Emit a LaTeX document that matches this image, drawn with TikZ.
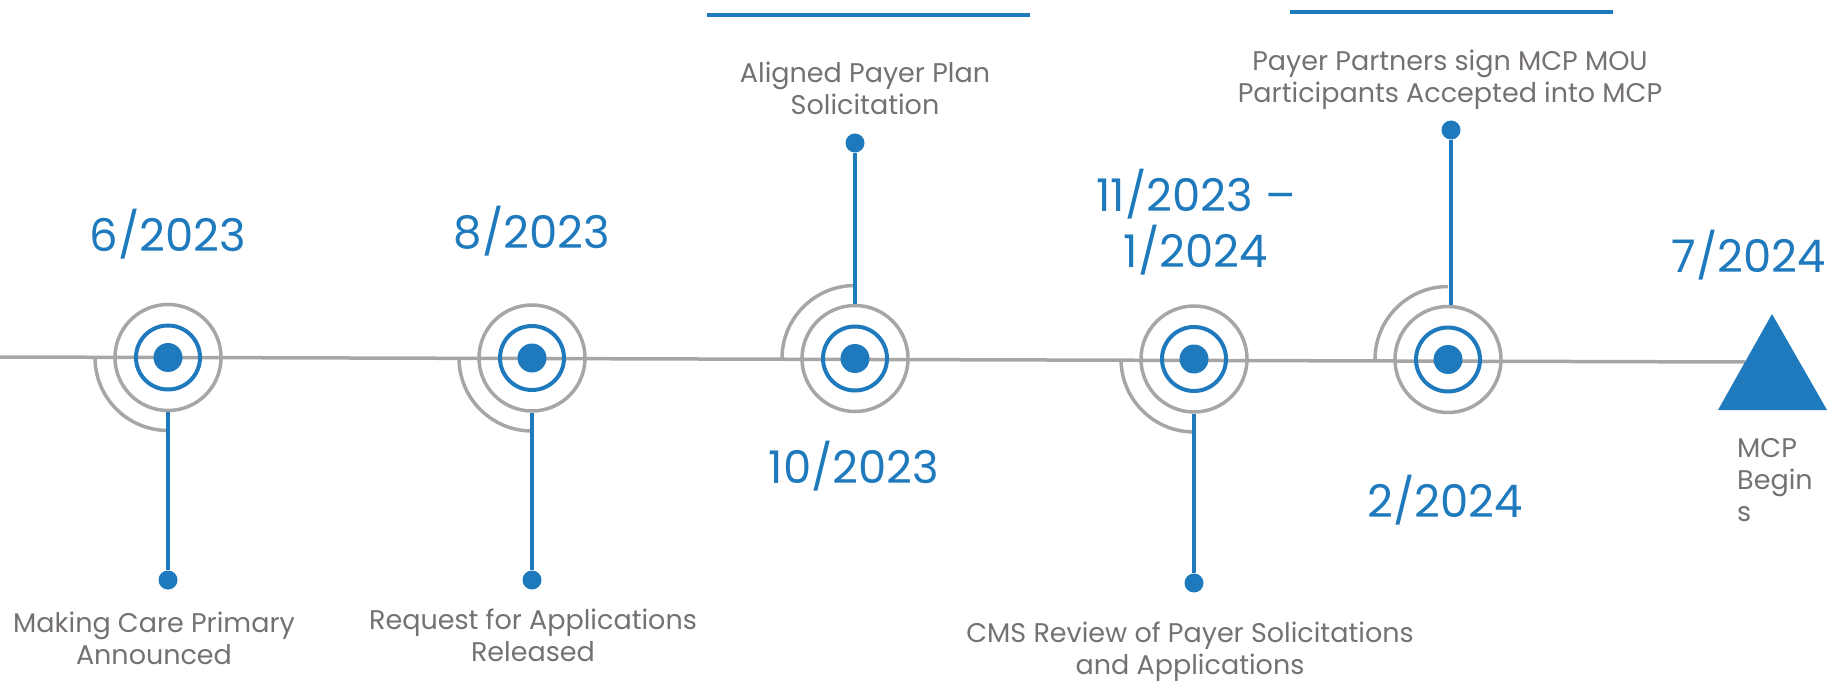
\documentclass[tikz,border=0pt]{standalone}
\usepackage{fontspec}
\setmainfont{Poppins}
\usetikzlibrary{positioning}

\definecolor{mcpblue}{RGB}{30,122,189}
\definecolor{ringgrey}{RGB}{166,166,166}
\definecolor{labelgrey}{RGB}{118,113,113}

\tikzset{
  outerring/.style={circle, draw=ringgrey, line width=3.5pt, minimum size=106pt, inner sep=0pt},
  innerring/.style={circle, draw=mcpblue, line width=4pt, minimum size=64pt, inner sep=0pt},
  centerdot/.style={circle, fill=mcpblue, minimum size=29pt, inner sep=0pt},
  pindot/.style={circle, fill=mcpblue, minimum size=19pt, inner sep=0pt},
  stemline/.style={draw=mcpblue, line width=4pt},
  haloarc/.style={draw=ringgrey, line width=3.5pt},
  datelabel/.style={text=mcpblue, font=\fontsize{45}{56}\selectfont, align=center, anchor=base, inner sep=0pt},
  eventlabel/.style={text=labelgrey, font=\fontsize{27}{32}\selectfont, align=center, anchor=base, inner sep=0pt},
}

\begin{document}
\begin{tikzpicture}[x=1pt, y=-1pt]
\useasboundingbox (0,0) rectangle (1830,700);

% timeline
\coordinate (start) at (0,357);
\coordinate (goaltop) at (1772,314);
\coordinate (goalright) at (1827,410);
\coordinate (goalleft) at (1718,410);
\coordinate (goal) at (1745,362);
\draw[haloarc] (start) -- (goal);
\fill[mcpblue] (goaltop) -- (goalright) -- (goalleft) -- cycle;

% milestones
\foreach \name/\x/\y in {c1/168/357.5, c2/532/358, c3/855/358.5, c4/1194/359, c5/1448/359.5}{
  \node[outerring] (\name) at (\x,\y) {};
  \node[innerring] at (\name) {};
  \node[centerdot] at (\name) {};
}

% halo arcs (below for 1, 2, 4; above for 3, 5)
\draw[haloarc] (c1) ++(-73,0) arc[start angle=180, end angle=90, radius=73];
\draw[haloarc] (c2) ++(-73,0) arc[start angle=180, end angle=90, radius=73];
\draw[haloarc] (c4) ++(-73,0) arc[start angle=180, end angle=90, radius=73];
\draw[haloarc] (c3) ++(-73,0) arc[start angle=180, end angle=270, radius=73];
\draw[haloarc] (c5) ++(-73,0) arc[start angle=180, end angle=270, radius=73];

% stems and pins
\node[pindot] (p1) at (168,580) {};
\node[pindot] (p2) at (532,580) {};
\node[pindot] (p3) at (855,143) {};
\node[pindot] (p4) at (1194,583) {};
\node[pindot] (p5) at (1451,130) {};
\draw[stemline] (c1.south) -- (p1);
\draw[stemline] (c2.south) -- (p2);
\draw[stemline] (c3.north) -- (p3);
\draw[stemline] (c4.south) -- (p4);
\draw[stemline] (p5 |- c5.north) -- (p5);

% top bars
\coordinate (bar1a) at (707,15);
\coordinate (bar1b) at (1030,15);
\coordinate (bar2a) at (1290,12);
\coordinate (bar2b) at (1613,12);
\draw[stemline] (bar1a) -- (bar1b);
\draw[stemline] (bar2a) -- (bar2b);

% dates (base = last line)
\node[datelabel] (d1) at (168,252) {6/2023};
\node[datelabel] (d2) at (532,249) {8/2023};
\node[datelabel] (d3) at (854,483) {10/2023};
\node[datelabel] (d4) at (1196,268) {11/2023 --\\1/2024};
\node[datelabel] (d5) at (1445,517) {2/2024};
\node[datelabel] (d6) at (1749,273) {7/2024};

% events (base = last line)
\node[eventlabel] (e1) at (154,664) {Making Care Primary\\Announced};
\node[eventlabel] (e2) at (533,661) {Request for Applications\\Released};
\node[eventlabel] (e3) at (865,115) {Aligned Payer Plan\\Solicitation};
\node[eventlabel] (e4) at (1190,674) {CMS Review of Payer Solicitations\\and Applications};
\node[eventlabel] (e5) at (1450,103) {Payer Partners sign MCP MOU\\Participants Accepted into MCP};
\node[eventlabel, align=left, anchor=base west] (e6) at (1737,521) {MCP\\Begin\\s};
\end{tikzpicture}
\end{document}
